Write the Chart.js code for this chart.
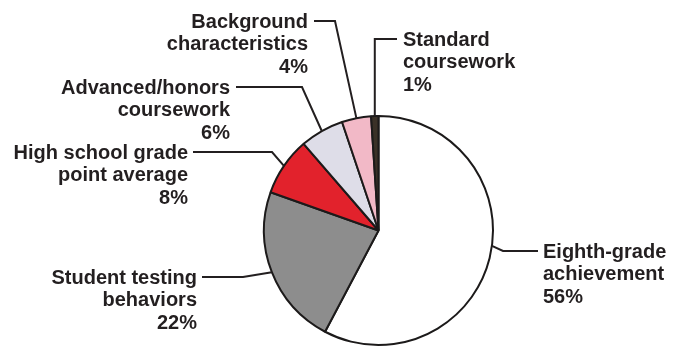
<!DOCTYPE html>
<html>
<head>
<meta charset="utf-8">
<script src="https://cdn.jsdelivr.net/npm/chart.js@4.4.1/dist/chart.umd.min.js"></script>
<style>
	html, body { margin: 0; padding: 0; background: #fff; }
	#wrap { width: 674px; height: 349px; }
</style>
</head>
<body>
<div id="wrap"><canvas id="pie" width="674" height="349"></canvas></div>
<script>
// slices, clockwise from 12 o'clock
var categories = [
	['Eighth-grade', 'achievement'],
	['Student testing', 'behaviors'],
	['High school grade', 'point average'],
	['Advanced/honors', 'coursework'],
	['Background', 'characteristics'],
	['Standard', 'coursework']
];
var shares = [56, 22, 8, 6, 4, 1];
var sliceColors = ['#ffffff', '#8d8d8d', '#e2222c', '#dedde8', '#f2b9c7', '#3a3127'];

// where each caption sits: x/y of first line, text side, elbow x of the leader,
// and where along its slice the leader meets the rim (0..1)
var captionLayout = [
	{ x: 543, y: 252, align: 'left',  lineX: 538, elbowX: 503, at: 0.47 },
	{ x: 197, y: 278, align: 'right', lineX: 202, elbowX: 243, at: 0.5 },
	{ x: 188, y: 153, align: 'right', lineX: 193, elbowX: 272, at: 0.5 },
	{ x: 230, y: 88,  align: 'right', lineX: 236, elbowX: 302, at: 0.5 },
	{ x: 308, y: 22,  align: 'right', lineX: 314, elbowX: 335, at: 0.5 },
	{ x: 403, y: 40,  align: 'left',  lineX: 397, elbowX: null, at: 0.5 }
];

var calloutPlugin = {
	id: 'callouts',
	afterDraw: function(chart) {
		var ctx = chart.ctx;
		var arcs = chart.getDatasetMeta(0).data;
		ctx.save();
		ctx.font = 'bold 20px "Liberation Sans", Arial, sans-serif';
		ctx.fillStyle = '#231f20';
		ctx.strokeStyle = '#231f20';
		ctx.lineWidth = 2;
		ctx.textBaseline = 'middle';
		arcs.forEach(function(arc, i) {
			var c = captionLayout[i];
			var a = arc.startAngle + (arc.endAngle - arc.startAngle) * c.at;
			var ex = arc.x + Math.cos(a) * arc.outerRadius;
			var ey = arc.y + Math.sin(a) * arc.outerRadius;
			var ly = c.y - 1;
			var bx = c.elbowX === null ? ex : c.elbowX;
			ctx.beginPath();
			ctx.moveTo(c.lineX, ly);
			ctx.lineTo(bx, ly);
			ctx.lineTo(ex, ey);
			ctx.stroke();

			ctx.textAlign = c.align;
			var lines = categories[i].concat([shares[i] + '%']);
			lines.forEach(function(t, k) {
				ctx.fillText(t, c.x, c.y + k * 22.7);
			});
		});
		ctx.restore();
	}
};

new Chart(document.getElementById('pie'), {
	type: 'pie',
	data: {
		labels: categories.map(function(l) { return l.join(' '); }),
		datasets: [{
			data: shares,
			backgroundColor: sliceColors,
			borderColor: '#1c1a1a',
			borderWidth: 2
		}]
	},
	options: {
		responsive: false,
		animation: false,
		layout: { padding: { top: 115, bottom: 3, left: 83, right: 0 } },
		plugins: {
			legend: { display: false },
			tooltip: { enabled: false }
		}
	},
	plugins: [calloutPlugin]
});
</script>
</body>
</html>
